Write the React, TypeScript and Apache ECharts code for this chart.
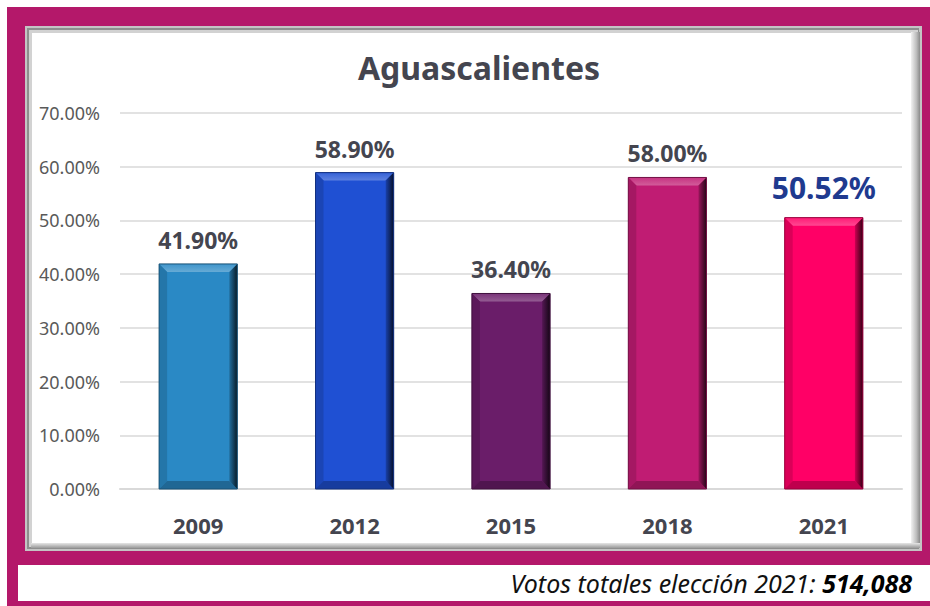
import React, { useEffect, useRef } from 'react';
import * as echarts from 'echarts';

const categories = ['2009', '2012', '2015', '2018', '2021'];
const values = [41.9, 58.9, 36.4, 58.0, 50.52];
const barColors = ['#2A89C5', '#1F50D3', '#6A1D69', '#C01C73', '#FF0066'];
const chartTitle = 'Aguascalientes';
const footerLabel = 'Votos totales elección 2021: ';
const footerValue = '514,088';

const FONT = '"Noto Sans", sans-serif';
const TEXT_DARK = '#44454F';

function mix(hex: string, target: string, t: number): string {
  const p = (h: string) => [1, 3, 5].map((k) => parseInt(h.slice(k, k + 2), 16));
  const a = p(hex);
  const b = p(target);
  const c = a.map((v, k) => Math.round(v + (b[k] - v) * t));
  return '#' + c.map((v) => v.toString(16).padStart(2, '0')).join('');
}

export default function App() {
  const ref = useRef<HTMLDivElement>(null);
  useEffect(() => {
    if (!ref.current) return;
    const chart = echarts.init(ref.current, null, { renderer: 'svg' });
    const lastIdx = values.length - 1;
    chart.setOption({
      animation: false,
      backgroundColor: '#FFFFFF',
      title: {
        text: chartTitle,
        left: 474,
        textAlign: 'center',
        top: 46,
        textStyle: { fontFamily: FONT, fontSize: 32, fontWeight: 'bold', color: TEXT_DARK },
      },
      graphic: [
        { type: 'rect', z: -20, shape: { x: 7, y: 7, width: 923, height: 599 }, style: { fill: '#B4186A' } },
        { type: 'rect', z: -19, shape: { x: 18, y: 565, width: 912, height: 36 }, style: { fill: '#FFFFFF' } },
        { type: 'rect', z: -19, shape: { x: 25, y: 26, width: 897, height: 525 }, style: { fill: '#C4C4C4' } },
        { type: 'rect', z: -18, shape: { x: 27, y: 28, width: 892, height: 521 }, style: { fill: '#8E8E8E' } },
        { type: 'rect', z: -17, shape: { x: 29, y: 30, width: 889, height: 517 }, style: { fill: '#D2D2D2' } },
        {
          type: 'rect', z: -16, shape: { x: 911, y: 32, width: 9, height: 514 },
          style: { fill: new echarts.graphic.LinearGradient(0, 0, 1, 0, [
            { offset: 0, color: '#F2F2F2' }, { offset: 0.6, color: '#BDBDBD' }, { offset: 1, color: '#8A8A8A' },
          ]) },
        },
        {
          type: 'rect', z: -16, shape: { x: 31, y: 543, width: 889, height: 5 },
          style: { fill: new echarts.graphic.LinearGradient(0, 0, 0, 1, [
            { offset: 0, color: '#E6E6E6' }, { offset: 1, color: '#9A9A9A' },
          ]) },
        },
        { type: 'rect', z: -15, shape: { x: 32, y: 33, width: 879, height: 510 }, style: { fill: '#FFFFFF' } },
        {
          type: 'text', z: 10, x: 912, y: 583,
          style: {
            text: '{a|' + footerLabel + '}{b|' + footerValue + '}',
            align: 'right', verticalAlign: 'middle',
            rich: {
              a: { fontFamily: FONT, fontSize: 25, fontStyle: 'italic', fill: '#111111', color: '#111111' },
              b: { fontFamily: FONT, fontSize: 25, fontStyle: 'italic', fontWeight: 'bold', fill: '#000000', color: '#000000' },
            },
          },
        },
      ],
      grid: { left: 120, right: 28, top: 113, bottom: 117 },
      xAxis: {
        type: 'category',
        data: categories,
        axisLine: { show: true, lineStyle: { color: '#D9D9D9', width: 2 } },
        axisTick: { show: false },
        axisLabel: { margin: 25, fontFamily: FONT, fontSize: 22, fontWeight: 'bold', color: TEXT_DARK },
      },
      yAxis: {
        type: 'value',
        min: 0,
        max: 70,
        interval: 10,
        axisLine: { show: false },
        axisTick: { show: false },
        splitLine: { lineStyle: { color: '#E2E2E2', width: 2 } },
        axisLabel: {
          margin: 20,
          fontFamily: FONT,
          fontSize: 18,
          color: '#595959',
          formatter: (v: number) => v.toFixed(2) + '%',
        },
      },
      series: [
        {
          type: 'custom',
          data: values.map((v, i) => [i, v]),
          encode: { x: 0, y: 1 },
          renderItem: (params: any, api: any) => {
            const i = api.value(0) as number;
            const v = api.value(1) as number;
            const top = api.coord([i, v]);
            const base = api.coord([i, 0]);
            const bw = api.size([1, 0])[0] * 0.5;
            const cx = top[0];
            const x0 = cx - bw / 2;
            const x1 = cx + bw / 2;
            const y0 = top[1];
            const y1 = base[1];
            const b = 8;
            const c = barColors[i];
            const isLast = i === lastIdx;
            return {
              type: 'group',
              children: [
                { type: 'rect', shape: { x: x0, y: y0, width: x1 - x0, height: y1 - y0 }, style: { fill: c } },
                {
                  type: 'polygon',
                  shape: { points: [[x0, y0], [x1, y0], [x1 - b, y0 + b], [x0 + b, y0 + b]] },
                  style: { fill: new echarts.graphic.LinearGradient(0, 0, 0, 1, [
                    { offset: 0, color: mix(c, '#FFFFFF', 0.1) }, { offset: 1, color: mix(c, '#FFFFFF', 0.28) },
                  ]) },
                },
                {
                  type: 'polygon',
                  shape: { points: [[x0, y0], [x0 + b, y0 + b], [x0 + b, y1 - b], [x0, y1]] },
                  style: { fill: mix(c, '#000000', 0.14) },
                },
                {
                  type: 'polygon',
                  shape: { points: [[x0, y1], [x1, y1], [x1 - b, y1 - b], [x0 + b, y1 - b]] },
                  style: { fill: mix(c, '#000000', 0.25) },
                },
                {
                  type: 'polygon',
                  shape: { points: [[x1, y0], [x1, y1], [x1 - b, y1 - b], [x1 - b, y0 + b]] },
                  style: { fill: new echarts.graphic.LinearGradient(0, 0, 1, 0, [
                    { offset: 0, color: mix(c, '#000000', 0.2) }, { offset: 1, color: mix(c, '#000000', 0.8) },
                  ]) },
                },
                {
                  type: 'rect',
                  shape: { x: x0, y: y0, width: x1 - x0, height: y1 - y0 },
                  style: { fill: 'none', stroke: mix(c, '#000000', 0.4), lineWidth: 1 },
                },
                {
                  type: 'text',
                  x: cx,
                  y: y0 - (isLast ? 30 : 24),
                  style: {
                    text: v.toFixed(2) + '%',
                    align: 'center',
                    verticalAlign: 'middle',
                    fontFamily: FONT,
                    fontWeight: 'bold',
                    fontSize: isLast ? 30 : 23,
                    fill: isLast ? '#1F3A8F' : TEXT_DARK,
                  },
                },
              ],
            };
          },
        },
      ],
    });
    return () => chart.dispose();
  }, []);
  return (
    <div
      ref={ref}
      style={{ position: 'absolute', left: 0, top: 0, width: 930, height: 606 }}
    />
  );
}
